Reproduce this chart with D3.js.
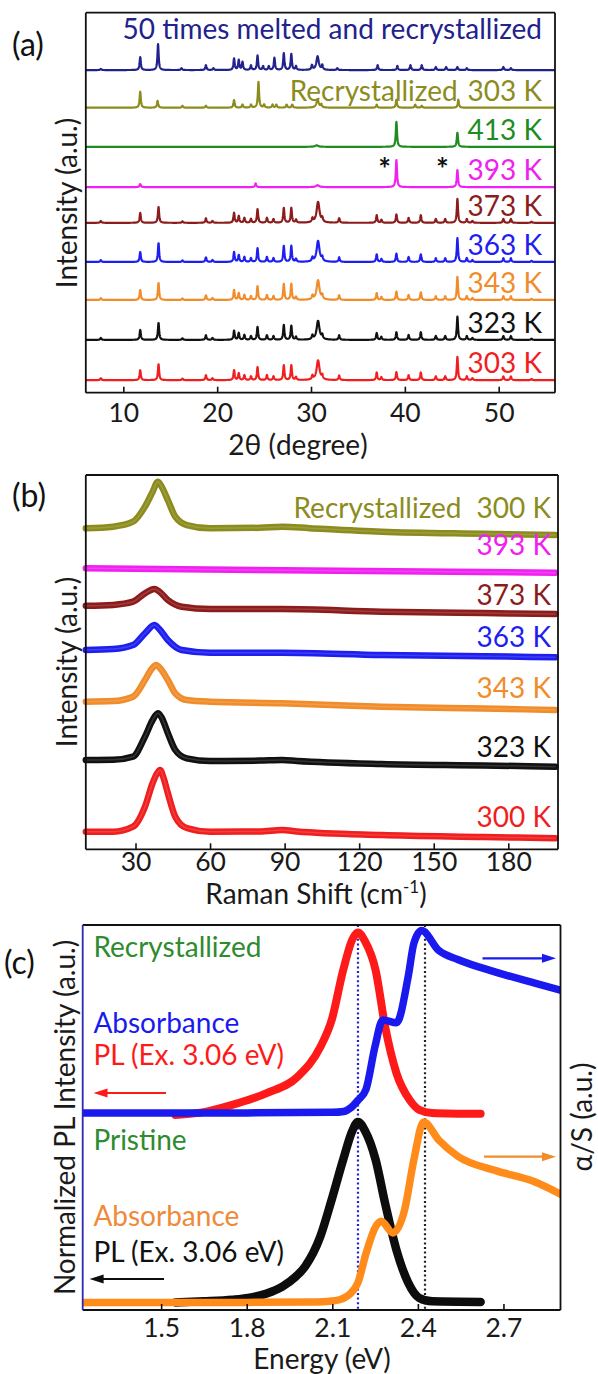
<!DOCTYPE html>
<html>
<head>
<meta charset="utf-8">
<script src="https://cdn.jsdelivr.net/npm/d3@7"></script>
<style>
  html, body { margin: 0; padding: 0; background: #fff; }
  svg { display: block; font-family: Lato, "Open Sans", sans-serif; }
</style>
</head>
<body>
<svg id="fig" width="598" height="1374"></svg>
<script>
// ================= (a) XRD patterns =================
// peaks: [2θ (deg), intensity (a.u.), optional half-width (deg)]
const xrdTicks = [10, 20, 30, 40, 50];
const xrd303K = [[7.6,0.5],[11.8,2.6],[13.75,4.2],[16.3,0.4],[18.8,1.3],[19.5,0.5],[21.8,2.6],[22.3,1.8],[22.9,1.3],[23.6,1.0],[24.3,3.4],[25.3,1.3],[26.0,1.0],[27.1,3.9],[27.9,3.9],[28.4,0.8],[30.15,1.0],[30.75,5.2,0.18],[31.2,1.0],[33.0,1.2],[37.0,2.0],[37.5,0.8],[39.1,2.1],[40.4,1.3],[41.7,2.0],[43.3,1.0],[44.3,1.0],[45.6,6.1],[46.6,1.0],[47.2,0.5],[50.5,1.0],[51.3,1.0],[53.5,0.3]];
const xrd323K = [[7.6,0.5],[11.8,2.6],[13.75,4.5],[16.3,0.4],[18.8,1.2],[19.5,0.5],[21.8,2.4],[22.3,1.8],[22.9,1.3],[23.6,1.0],[24.3,3.4],[25.3,1.2],[26.0,1.0],[27.1,3.9],[27.9,3.7],[28.4,0.8],[30.15,1.0],[30.75,5.0,0.18],[31.2,1.0],[33.0,1.2],[37.0,1.8],[37.5,0.8],[39.1,2.0],[40.4,1.3],[41.7,2.0],[43.3,1.0],[44.3,1.0],[45.6,6.1],[46.6,1.0],[47.2,0.5],[50.5,1.0],[51.3,1.0],[53.5,0.3]];
const xrd343K = [[7.6,0.5],[11.8,2.6],[13.75,4.5],[16.3,0.4],[18.8,1.2],[19.5,0.5],[21.8,2.6],[22.3,1.8],[22.9,1.3],[23.6,1.0],[24.3,3.6],[25.3,1.3],[26.0,1.0],[27.1,4.2],[27.9,4.2],[28.4,0.8],[30.15,1.0],[30.75,5.2,0.18],[31.2,1.0],[33.0,1.2],[37.0,1.8],[37.5,0.8],[39.1,2.2],[40.4,1.3],[41.7,2.0],[43.3,1.0],[44.3,1.0],[45.6,6.1],[46.6,1.0],[47.2,0.5],[50.5,1.0],[51.3,1.0],[53.5,0.3]];
const xrd363K = [[7.6,0.5],[11.8,2.6],[13.75,5.0],[16.3,0.4],[18.8,1.2],[19.5,0.5],[21.8,2.6],[22.3,1.8],[22.9,1.3],[23.6,1.0],[24.3,3.6],[25.3,1.3],[26.0,1.0],[27.1,4.2],[27.9,4.2],[28.4,0.8],[30.15,1.0],[30.75,5.5,0.18],[31.2,1.0],[33.0,1.2],[37.0,2.0],[37.5,0.8],[39.1,2.2],[40.4,1.3],[41.7,2.0],[43.3,1.0],[44.3,1.0],[45.6,6.3],[46.6,1.0],[47.2,0.5],[50.5,1.0],[51.3,1.0],[53.5,0.3]];
const xrd373K = [[7.6,0.5],[11.8,2.6],[13.75,4.2],[16.3,0.4],[18.8,1.2],[19.5,0.5],[21.8,2.6],[22.3,1.8],[22.9,1.3],[23.6,1.0],[24.3,3.6],[25.3,1.3],[26.0,1.0],[27.1,3.9],[27.9,3.9],[28.4,0.8],[30.15,1.0],[30.75,5.5,0.18],[31.2,1.0],[33.0,1.2],[37.0,2.0],[37.5,0.8],[39.1,2.2],[40.4,1.3],[41.7,2.0],[43.3,1.0],[44.3,1.0],[45.6,6.3],[46.6,1.0],[47.2,0.5],[50.5,1.0],[51.3,1.0],[53.5,0.3]];
const xrd393K = [[11.8,0.8],[24.1,1.0],[30.7,0.5,0.2],[39.1,7.1],[45.6,4.5]];
const xrd413K = [[30.6,0.4,0.2],[39.1,6.6],[45.6,3.7]];
const xrdRecryst = [[11.8,4.2],[13.65,1.8],[16.3,0.5],[18.8,0.5],[21.8,2.0],[22.7,0.8],[23.6,0.8],[24.4,6.8],[25.0,0.8],[25.9,0.8],[26.3,0.8],[27.4,0.8],[28.0,0.8],[30.7,2.1,0.15],[31.1,0.8],[37.0,0.8],[39.1,2.1],[41.1,0.8],[41.8,0.5],[45.7,2.1]];
const xrd50Cycles = [[7.6,0.3],[11.8,3.4],[13.7,6.8],[16.2,0.5],[18.8,1.3],[19.6,0.5],[21.8,3.0],[22.3,2.6],[22.7,2.1],[23.6,1.2],[24.3,3.8],[24.9,1.0],[25.5,1.0],[26.1,3.2],[27.1,4.4],[27.9,4.2],[28.4,1.0],[30.1,1.2],[30.7,3.6,0.15],[31.2,1.2],[32.8,0.5],[37.1,1.3],[39.2,1.1],[40.6,1.3],[41.8,1.3],[43.3,0.8],[44.4,0.8],[45.6,0.8],[46.6,0.5],[50.5,0.8],[51.3,0.5]];
const xrdSeries = [xrd303K, xrd323K, xrd343K, xrd363K, xrd373K, xrd393K, xrd413K, xrdRecryst, xrd50Cycles];
const xrdLabels = ["303 K", "323 K", "343 K", "363 K", "373 K", "393 K", "413 K", "303 K", "50 times melted and recrystallized"];
const xrdOffsets = [3.3, 13.9, 24.4, 34.4, 44.7, 54.1, 64.7, 75.0, 84.9];
const starPositions = [37.85, 44.0];

// ================= (b) Raman spectra =================
// points: [Raman shift (cm-1), intensity (a.u., stacked)]
const ramanTicks = [30, 60, 90, 120, 150, 180];
const raman300K = [[10,4.70],[21,4.70],[29,6.04],[33.8,11.38],[36.9,17.71],[38.5,20.1],[39.9,21.19],[41.3,19.05],[43,15.04],[46,8.71],[50.6,5.69],[60,4.70],[80,4.75],[89,5.16],[95,4.75],[129,3.82],[170,3.3],[199,2.94]];
const raman323K = [[10,23.86],[21,23.9],[29,24.74],[33.8,30.08],[36.9,34.54],[39,36.33],[40.5,35.2],[43,31.07],[46,26.53],[50.6,24.31],[60,23.59],[80,23.7],[89,23.86],[95,23.6],[129,22.79],[170,22.4],[199,22.07]];
const raman343K = [[10,39.43],[21,39.6],[29,40.77],[33.8,45.23],[36.5,48.2],[38.3,49.24],[40,48.3],[43,45.23],[46,41.68],[50.6,39.89],[60,39.43],[89,39.01],[129,38.10],[170,37.6],[199,37.22]];
const raman363K = [[10,53.25],[21,53.5],[29,54.58],[33.8,57.71],[37.6,59.93],[39.5,58.9],[43,55.92],[48.6,53.25],[60,52.52],[89,52.52],[129,51.91],[170,51.6],[199,51.30]];
const raman373K = [[10,65.08],[21,65.3],[29,66.15],[33.8,68.39],[37.6,69.54],[39.5,68.9],[43,66.60],[48.6,64.81],[60,64.20],[89,64.20],[129,63.48],[170,63.1],[199,62.86]];
const raman393K = [[10,75.07],[100,74.48],[199,73.90]];
const ramanRecryst = [[10,85.76],[21,86.19],[29,87.52],[33.8,91.53],[36.9,95.54],[39,98.21],[40.5,96.9],[43,93.32],[46,88.86],[50.6,86.64],[60,85.76],[80,85.9],[89,86.19],[100,85.8],[129,84.85],[170,84.3],[199,83.97]];
const ramanSeries = [raman300K, raman323K, raman343K, raman363K, raman373K, raman393K, ramanRecryst];
const ramanLabels = ["300 K", "323 K", "343 K", "363 K", "373 K", "393 K", "300 K"];

// ================= (c) PL and absorbance =================
// points: [energy (eV), normalised intensity]
const energyTicks = [1.5, 1.8, 2.1, 2.4, 2.7];
const plPristine = [[1.55,0.0],[1.65,0.006],[1.75,0.015],[1.805,0.025],[1.87,0.05],[1.925,0.088],[1.97,0.14],[2.005,0.2],[2.058,0.365],[2.098,0.57],[2.138,0.79],[2.17,0.95],[2.19,1.0],[2.215,0.95],[2.252,0.79],[2.285,0.55],[2.325,0.29],[2.366,0.11],[2.405,0.025],[2.45,0.006],[2.62,0.003]];
const absPristine = [[1.225,0.0],[1.8,0.0],[2.05,0.003],[2.11,0.01],[2.164,0.05],[2.19,0.11],[2.218,0.27],[2.252,0.42],[2.272,0.45],[2.312,0.385],[2.353,0.51],[2.386,0.79],[2.42,1.0],[2.473,0.9],[2.54,0.81],[2.673,0.73],[2.807,0.67],[2.9,0.6]];
const plRecryst = [[1.55,-0.012],[1.65,0.004],[1.74,0.04],[1.87,0.11],[1.978,0.2],[2.058,0.365],[2.098,0.515],[2.138,0.79],[2.17,0.96],[2.19,1.0],[2.215,0.95],[2.252,0.79],[2.285,0.48],[2.325,0.22],[2.372,0.07],[2.405,0.017],[2.45,0.0],[2.62,-0.005]];
const absRecryst = [[1.225,0.0],[1.8,0.0],[2.1,0.003],[2.14,0.008],[2.166,0.03],[2.19,0.07],[2.218,0.13],[2.25,0.37],[2.277,0.515],[2.325,0.5],[2.366,0.755],[2.386,0.94],[2.413,1.01],[2.473,0.9],[2.54,0.85],[2.673,0.78],[2.807,0.72],[2.9,0.68]];
const stackOffsets = [0, 1.05];
const energyMarkers = [2.19, 2.425];

// ---------------- layout & styles ----------------
const svg = d3.select("#fig");
const FONT = 28;
const TICK_FONT = 26.5;
const boxA = {l: 85.8, r: 555, t: 12.7, b: 392.7};
const boxB = {l: 85.8, r: 558, t: 475, b: 849.3};
const boxC = {l: 82.7, r: 560.5, t: 925, b: 1310};
const xrdColors = ["#f01e1e", "#111111", "#f08c2a", "#1e1ef0", "#8c1c1c", "#f020f0", "#1e8c1e", "#8c8c1e", "#22228c"];
const ramanColors = ["#f01e1e", "#111111", "#f08c2a", "#1e1ef0", "#8c1c1c", "#f020f0", "#8c8c1e"];

function frame(box, leftColor) {
  const g = svg.append("g");
  g.append("line").attr("x1", box.l).attr("x2", box.r).attr("y1", box.t).attr("y2", box.t).attr("stroke", "#111").attr("stroke-width", 1.8);
  g.append("line").attr("x1", box.l).attr("x2", box.r).attr("y1", box.b).attr("y2", box.b).attr("stroke", "#111").attr("stroke-width", 1.8);
  g.append("line").attr("x1", box.r).attr("x2", box.r).attr("y1", box.t).attr("y2", box.b).attr("stroke", "#111").attr("stroke-width", 1.8);
  g.append("line").attr("x1", box.l).attr("x2", box.l).attr("y1", box.t).attr("y2", box.b).attr("stroke", leftColor || "#111").attr("stroke-width", 1.8);
}

function bottomAxis(box, x, ticks, fmt, labelY) {
  const ax = d3.axisBottom(x).tickValues(ticks).tickSizeInner(-6).tickSizeOuter(0).tickFormat(fmt);
  const g = svg.append("g").attr("transform", `translate(0,${box.b})`).call(ax);
  g.select(".domain").remove();
  g.selectAll(".tick line").attr("stroke", "#111").attr("stroke-width", 1.6);
  g.selectAll(".tick text").attr("font-size", TICK_FONT).attr("fill", "#1a1a1a")
    .attr("font-family", "Lato, sans-serif").attr("y", labelY - box.b).attr("dy", 0);
}

function text(x, y, str, color, anchor, size, weight) {
  return svg.append("text").attr("x", x).attr("y", y).attr("fill", color || "#1a1a1a")
    .attr("font-size", size || FONT).attr("text-anchor", anchor || "start")
    .attr("font-weight", weight || "normal").text(str);
}

function vtext(x, y, str, color) {
  return svg.append("text").attr("transform", `translate(${x},${y}) rotate(-90)`)
    .attr("text-anchor", "middle").attr("font-size", FONT).attr("fill", color || "#1a1a1a").text(str);
}

// ================= draw (a) =================
const xA = d3.scaleLinear().domain([6, 56]).range([boxA.l, boxA.r]);
const yA = d3.scaleLinear().domain([0, 100]).range([boxA.b, boxA.t]);
const grid2t = d3.range(6, 56.0001, 0.02);
function xrdProfile(peaks, offset) {
  return grid2t.map(t => {
    let v = 0;
    for (const p of peaks) {
      const g = p[2] || 0.075;
      const u = (t - p[0]) / g;
      v += p[1] / (1 + u * u);
    }
    return [t, offset + v];
  });
}
svg.append("defs").append("clipPath").attr("id", "clipA").append("rect")
  .attr("x", boxA.l).attr("y", boxA.t).attr("width", boxA.r - boxA.l).attr("height", boxA.b - boxA.t);
const lineA = d3.line().x(d => xA(d[0])).y(d => yA(d[1]));
const gA = svg.append("g").attr("clip-path", "url(#clipA)");
xrdSeries.forEach((s, i) => {
  gA.append("path").datum(xrdProfile(s, xrdOffsets[i])).attr("d", lineA)
    .attr("fill", "none").attr("stroke", xrdColors[i]).attr("stroke-width", 2.2).attr("stroke-linejoin", "round");
});
frame(boxA);
bottomAxis(boxA, xA, xrdTicks, d3.format("d"), 422);
xrdLabels.forEach((lab, i) => {
  if (i === 8) {
    text(542, 39, lab, xrdColors[i], "end");
  } else {
    text(542, yA(xrdOffsets[i]) - 7, lab, xrdColors[i], "end");
  }
});
text(457.7, yA(xrdOffsets[7]) - 7, "Recrystallized", xrdColors[7], "end");
starPositions.forEach(p => text(xA(p), 180, "*", "#111", "middle", 30, "bold"));
vtext(77, 203, "Intensity (a.u.)");
text(298, 455, "2θ (degree)", "#1a1a1a", "middle");
text(12, 56, "(a)", "#111", "start", 32);

// ================= draw (b) =================
const xB = d3.scaleLinear().domain([10, 200]).range([boxB.l, boxB.r]);
const yB = d3.scaleLinear().domain([0, 100]).range([boxB.b, boxB.t]);
const lineB = d3.line().x(d => xB(d[0])).y(d => yB(d[1])).curve(d3.curveMonotoneX);
ramanSeries.forEach((s, i) => {
  svg.append("path").datum(s).attr("d", lineB).attr("fill", "none")
    .attr("stroke", ramanColors[i]).attr("stroke-width", 6.5).attr("stroke-linecap", "round");
  svg.append("path").datum(s).attr("d", lineB).attr("fill", "none")
    .attr("stroke", "#fff").attr("stroke-opacity", 0.15).attr("stroke-width", 1.5);
});
frame(boxB);
bottomAxis(boxB, xB, ramanTicks, d3.format("d"), 871);
const ramanLabelY = [826.7, 756.7, 698.3, 646.7, 605, 555, 518];
ramanLabels.forEach((lab, i) => text(551, ramanLabelY[i], lab, ramanColors[i], "end"));
text(461.5, 518, "Recrystallized", ramanColors[6], "end");
vtext(77, 662, "Intensity (a.u.)");
const rt = text(316, 904, "Raman Shift (cm", "#1a1a1a", "middle");
rt.append("tspan").attr("font-size", 17).attr("dy", -11).text("-1");
rt.append("tspan").attr("dy", 11).text(")");
text(12, 507, "(b)", "#111", "start", 32);

// ================= draw (c) =================
const xC = d3.scaleLinear().domain([1.225, 2.9]).range([boxC.l, boxC.r]);
const yC = d3.scaleLinear().domain([-0.042, 2.091]).range([boxC.b, boxC.t]);
svg.append("defs").append("clipPath").attr("id", "clipC").append("rect")
  .attr("x", boxC.l).attr("y", boxC.t).attr("width", boxC.r - boxC.l).attr("height", boxC.b - boxC.t);
const gC = svg.append("g").attr("clip-path", "url(#clipC)");
function lineC(off) {
  return d3.line().x(d => xC(d[0])).y(d => yC(d[1] + off)).curve(d3.curveMonotoneX);
}
// dotted guides at the PL peak and the excitonic absorption peak
energyMarkers.forEach((e, i) => {
  gC.append("line").attr("x1", xC(e)).attr("x2", xC(e)).attr("y1", boxC.t).attr("y2", boxC.b)
    .attr("stroke", i === 0 ? "#2222cc" : "#222").attr("stroke-width", 2.2).attr("stroke-dasharray", "2,2.6");
});
const curvesC = [
  {d: plPristine, off: stackOffsets[0], c: "#0d0d0d", w: 8.5},
  {d: absPristine, off: stackOffsets[0], c: "#ff8c1a", w: 7.5},
  {d: plRecryst, off: stackOffsets[1], c: "#ff1a1a", w: 8},
  {d: absRecryst, off: stackOffsets[1], c: "#1a1aee", w: 7.5}
];
curvesC.forEach(k => {
  gC.append("path").datum(k.d).attr("d", lineC(k.off)).attr("fill", "none")
    .attr("stroke", k.c).attr("stroke-width", k.w).attr("stroke-linecap", "round").attr("stroke-linejoin", "round");
});
frame(boxC, "#2a2ab0");
bottomAxis(boxC, xC, energyTicks, d3.format(".1f"), 1337);

function arrow(x1, x2, y, color) {
  const dir = Math.sign(x2 - x1);
  svg.append("line").attr("x1", x1).attr("x2", x2 - dir * 10).attr("y1", y).attr("y2", y)
    .attr("stroke", color).attr("stroke-width", 2.2);
  svg.append("path").attr("d", `M${x2},${y} L${x2 - dir * 14},${y - 4.5} L${x2 - dir * 14},${y + 4.5} Z`).attr("fill", color);
}
arrow(482.5, 556, 958.3, "#1a1aee");
arrow(166, 93.5, 1093, "#ff1a1a");
arrow(484, 556, 1156.7, "#f08c2a");
arrow(164, 89.6, 1279, "#0d0d0d");

text(93.4, 957, "Recrystallized", "#2e8b2e");
text(93.4, 1033, "Absorbance", "#1a1aee");
text(93.4, 1065, "PL (Ex. 3.06 eV)", "#ff1a1a");
text(93.4, 1150, "Pristine", "#2e8b2e");
text(93.4, 1226, "Absorbance", "#ee8a3a");
text(93.4, 1262, "PL (Ex. 3.06 eV)", "#111");
vtext(75, 1117.5, "Normalized PL Intensity (a.u.)");
vtext(592, 1117, "α/S (a.u.)");
text(322, 1369, "Energy (eV)", "#1a1a1a", "middle");
text(4, 974, "(c)", "#111", "start", 32);
</script>
</body>
</html>
